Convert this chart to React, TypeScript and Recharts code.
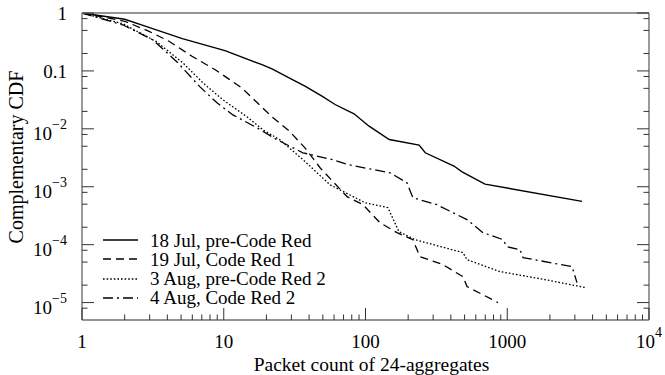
import React from 'react';
import { LineChart, Line, XAxis, YAxis, Legend } from 'recharts';

const FONT = '"Liberation Serif", "Times New Roman", Times, serif';

// ---- axes ----
const X_DOMAIN = [1, 10000];
const Y_DOMAIN = [5e-6, 1];
const X_MAJOR = [1, 10, 100, 1000, 10000];
const X_LABELS = ['1', '10', '100', '1000', '10^4'];
const X_MINOR = [2, 3, 4, 5, 6, 7, 8, 9, 20, 30, 40, 50, 60, 70, 80, 90, 200, 300, 400, 500, 600, 700, 800, 900, 2000, 3000, 4000, 5000, 6000, 7000, 8000, 9000];
const Y_MAJOR = [1, 0.1, 0.01, 0.001, 0.0001, 0.00001];
const Y_LABELS = ['1', '0.1', '10^\u22122', '10^\u22123', '10^\u22124', '10^\u22125'];
const Y_MINOR = [0.8, 0.5, 0.2, 0.08, 0.05, 0.02, 0.008, 0.005, 0.002, 0.0008, 0.0005, 0.0002, 0.00008, 0.00005, 0.00002, 0.000008];
const X_ALL = [...X_MAJOR, ...X_MINOR].sort((a, b) => a - b);
const Y_ALL = [...Y_MAJOR, ...Y_MINOR].sort((a, b) => a - b);

// ---- series ----
const JUL18_X = [1, 2, 3, 5.1, 10.2, 18.6, 21.9, 28.9, 37.4, 49.3, 61, 83, 106, 147, 239, 264, 421, 480, 697, 3370];
const JUL18_Y = [1, 0.78, 0.56, 0.36, 0.224, 0.128, 0.108, 0.0758, 0.0545, 0.0366, 0.0263, 0.0182, 0.0111, 0.00655, 0.00525, 0.00386, 0.00228, 0.00181, 0.00111, 0.000558];

const JUL19_X = [1, 2, 2.97, 4.11, 5.97, 8.7, 13.4, 21.9, 28.9, 37.4, 47.8, 74.1, 96, 126.5, 166.8, 216, 242, 352, 487, 520, 861];
const JUL19_Y = [1, 0.72, 0.483, 0.325, 0.179, 0.105, 0.0509, 0.0161, 0.00924, 0.0047, 0.00213, 0.000673, 0.00049, 0.000239, 0.000161, 0.000122, 0.000062, 0.0000452, 0.000028, 0.0000189, 0.00001];

const AUG3_X = [1, 1.95, 3.38, 5.16, 7.14, 9.88, 14.6, 18.9, 24.9, 36.3, 56.2, 99.2, 144, 172, 223, 487, 520, 889, 1846, 3538];
const AUG3_Y = [1, 0.65, 0.316, 0.137, 0.0621, 0.0316, 0.0161, 0.0096, 0.00646, 0.00292, 0.00108, 0.00053, 0.000435, 0.000168, 0.000122, 0.0000728, 0.000055, 0.0000342, 0.0000249, 0.0000182];

const AUG4_X = [1, 1.95, 3.17, 4.68, 6.8, 8.96, 11.6, 17.2, 23.8, 36.2, 59, 76.5, 149, 196, 216, 319, 520, 674, 933, 996, 1230, 1292, 2862, 3105];
const AUG4_Y = [1, 0.62, 0.342, 0.143, 0.053, 0.0281, 0.0174, 0.0104, 0.00645, 0.00386, 0.00292, 0.00239, 0.00174, 0.00117, 0.000646, 0.00049, 0.00027, 0.000161, 0.000122, 0.000092, 0.000082, 0.0000597, 0.0000418, 0.0000221];

const SERIES_NAMES = ['18 Jul, pre-Code Red', '19 Jul, Code Red 1', '3 Aug, pre-Code Red 2', '4 Aug, Code Red 2'];
const SERIES_DASH = ['', '8 5', '1.6 2', '10 4 2 4'];
const SERIES_WIDTH = [1.4, 1.3, 1.3, 1.3];

const toPoints = (xs: number[], ys: number[]) => xs.map((x, i) => ({ x, y: ys[i] }));
const SERIES_DATA = [
  toPoints(JUL18_X, JUL18_Y),
  toPoints(JUL19_X, JUL19_Y),
  toPoints(AUG3_X, AUG3_Y),
  toPoints(AUG4_X, AUG4_Y),
];

const FRAME = { stroke: '#707070', strokeWidth: 1.4 };
const TICK_COLOR = '#333';
const MAJOR_LEN = 12;
const MINOR_LEN = 5.5;

const majorIndex = (v: number, list: number[]) => list.findIndex((m) => Math.abs(m - v) / m < 1e-6);

const renderLabel = (label: string) => {
  const i = label.indexOf('^');
  if (i < 0) return label;
  return [
    <tspan key="b">{label.slice(0, i)}</tspan>,
    <tspan key="s" dy={-11} fontSize={14}>{label.slice(i + 1)}</tspan>,
  ];
};

const BottomTick = (props: any) => {
  const { x, y, payload } = props;
  const idx = majorIndex(payload.value, X_MAJOR);
  const len = idx >= 0 ? MAJOR_LEN : MINOR_LEN;
  return (
    <g>
      <line x1={x} x2={x} y1={y} y2={y - len} stroke={TICK_COLOR} strokeWidth={1} />
      {idx >= 0 && (
        <text x={x} y={y + 28} textAnchor="middle" fontFamily={FONT} fontSize={19} fill="#000">
          {renderLabel(X_LABELS[idx])}
        </text>
      )}
    </g>
  );
};

const TopTick = (props: any) => {
  const { x, y, payload } = props;
  const len = majorIndex(payload.value, X_MAJOR) >= 0 ? MAJOR_LEN : MINOR_LEN;
  return <line x1={x} x2={x} y1={y} y2={y + len} stroke={TICK_COLOR} strokeWidth={1} />;
};

const LeftTick = (props: any) => {
  const { x, y, payload } = props;
  const idx = majorIndex(payload.value, Y_MAJOR);
  const len = idx >= 0 ? MAJOR_LEN : MINOR_LEN;
  const label = idx >= 0 ? Y_LABELS[idx] : '';
  const power = label.indexOf('^') >= 0;
  return (
    <g>
      <line x1={x} x2={x + len} y1={y} y2={y} stroke={TICK_COLOR} strokeWidth={1} />
      {label && (
        <text x={x - 15} y={y + (power ? 11 : 7)} textAnchor="end" fontFamily={FONT} fontSize={19} fill="#000">
          {renderLabel(label)}
        </text>
      )}
    </g>
  );
};

const RightTick = (props: any) => {
  const { x, y, payload } = props;
  const len = majorIndex(payload.value, Y_MAJOR) >= 0 ? MAJOR_LEN : MINOR_LEN;
  return <line x1={x} x2={x - len} y1={y} y2={y} stroke={TICK_COLOR} strokeWidth={1} />;
};

const XTitle = (props: any) => {
  const vb = props.viewBox;
  return (
    <text x={vb.x + vb.width / 2 + 6} y={371} textAnchor="middle" fontFamily={FONT} fontSize={19.5} fill="#000">
      Packet count of 24-aggregates
    </text>
  );
};

const YTitle = (props: any) => {
  const vb = props.viewBox;
  const cx = 23;
  const cy = vb.y + vb.height / 2 - 9.5;
  return (
    <text x={cx} y={cy} transform={`rotate(-90, ${cx}, ${cy})`} textAnchor="middle" fontFamily={FONT} fontSize={20} fill="#000">
      Complementary CDF
    </text>
  );
};

const LegendBox = () => (
  <div style={{ fontFamily: FONT, fontSize: 19, color: '#000' }}>
    {SERIES_NAMES.map((name, i) => (
      <div key={name} style={{ display: 'flex', alignItems: 'center', height: 19.3 }}>
        <svg width={36} height={6} style={{ display: 'block' }}>
          <line x1={0} y1={3} x2={35} y2={3} stroke="#000" strokeWidth={SERIES_WIDTH[i]} strokeDasharray={SERIES_DASH[i] || undefined} />
        </svg>
        <span style={{ marginLeft: 11, lineHeight: '19.3px', whiteSpace: 'nowrap' }}>{name}</span>
      </div>
    ))}
  </div>
);

export default function App() {
  return (
    <div style={{ position: 'absolute', left: 0, top: 0, width: 665, height: 375, background: '#fff' }}>
      <LineChart width={665} height={375} margin={{ top: 13, right: 16, bottom: 0, left: 0 }}>
        <XAxis
          xAxisId="x"
          dataKey="x"
          type="number"
          scale="log"
          domain={X_DOMAIN}
          allowDataOverflow
          ticks={X_ALL}
          interval={0}
          height={55}
          tickLine={false}
          tickSize={0}
          tickMargin={0}
          axisLine={FRAME}
          tick={<BottomTick />}
          label={XTitle}
        />
        <YAxis
          yAxisId="y"
          type="number"
          scale="log"
          domain={Y_DOMAIN}
          allowDataOverflow
          ticks={Y_ALL}
          interval={0}
          width={82}
          tickLine={false}
          tickSize={0}
          tickMargin={0}
          axisLine={FRAME}
          tick={<LeftTick />}
          label={YTitle}
        />
        <XAxis
          xAxisId="xt"
          type="number"
          scale="log"
          domain={X_DOMAIN}
          allowDataOverflow
          orientation="top"
          mirror
          height={1}
          ticks={X_ALL}
          interval={0}
          tickLine={false}
          tickSize={0}
          tickMargin={0}
          axisLine={FRAME}
          tick={<TopTick />}
        />
        <YAxis
          yAxisId="yr"
          type="number"
          scale="log"
          domain={Y_DOMAIN}
          allowDataOverflow
          orientation="right"
          mirror
          width={1}
          ticks={Y_ALL}
          interval={0}
          tickLine={false}
          tickSize={0}
          tickMargin={0}
          axisLine={FRAME}
          tick={<RightTick />}
        />

        {SERIES_DATA.map((d, i) => (
          <Line
            key={SERIES_NAMES[i]}
            xAxisId="x"
            yAxisId="y"
            data={d}
            dataKey="y"
            name={SERIES_NAMES[i]}
            type="linear"
            stroke="#000"
            strokeWidth={SERIES_WIDTH[i]}
            strokeDasharray={SERIES_DASH[i] || undefined}
            dot={false}
            activeDot={false}
            isAnimationActive={false}
          />
        ))}
        <Legend
          layout="vertical"
          align="center"
          verticalAlign="middle"
          content={LegendBox}
          wrapperStyle={{ left: 103, top: 230.5, width: 260, height: 80 }}
        />
      </LineChart>
    </div>
  );
}
